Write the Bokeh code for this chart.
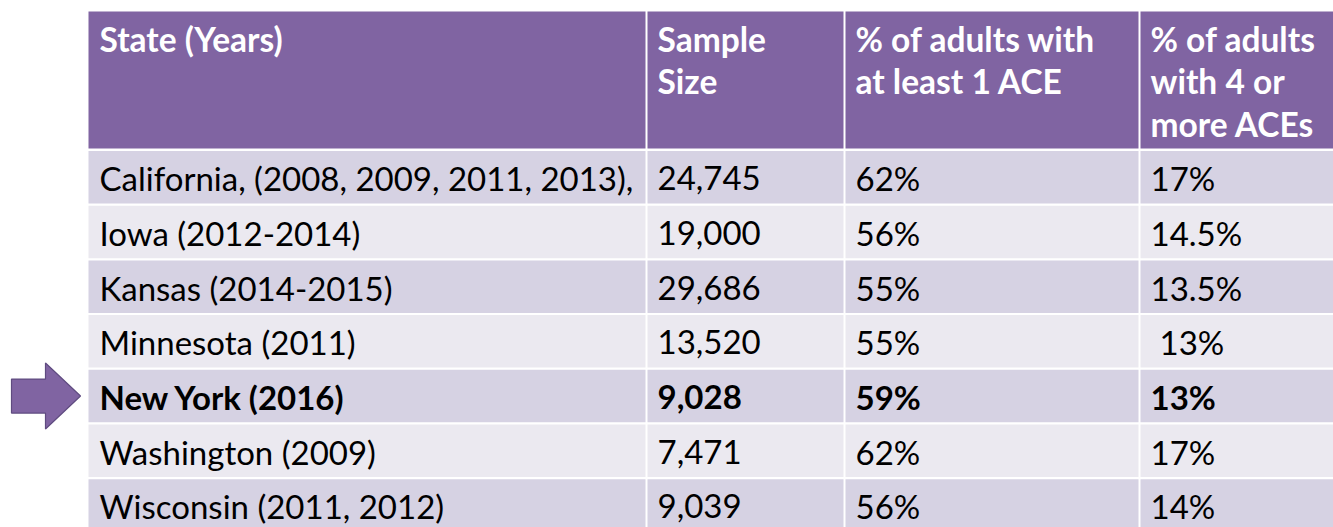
from bokeh.plotting import figure
from bokeh.models import Range1d
from bokeh.core.properties import value
from bokeh.embed import file_html
from bokeh.resources import INLINE

# ---- data ----
header_lines = [
    ["State (Years)"],
    ["Sample", "Size"],
    ["% of adults with", "at least 1 ACE"],
    ["% of adults", "with 4 or", "more ACEs"],
]
states = ["California, (2008, 2009, 2011, 2013),", "Iowa (2012-2014)", "Kansas (2014-2015)",
          "Minnesota (2011)", "New York (2016)", "Washington (2009)", "Wisconsin (2011, 2012)"]
sample_size = ["24,745", "19,000", "29,686", "13,520", "9,028", "7,471", "9,039"]
pct_any_ace = ["62%", "56%", "55%", "55%", "59%", "62%", "56%"]
pct_4plus = ["17%", "14.5%", "13.5%", " 13%", "13%", "17%", "14%"]
highlight = "New York (2016)"

# ---- layout (image pixel coordinates) ----
W, H = 1333, 527
col_edges = [88, 646, 844, 1139, 1345]
text_pad = 11
head_top, head_bot = 11, 148
row_top0, row_h, gap = 150.5, 54.7, 2.2
FONT = "Lato"
FS = "33px"
HFS = "33.5px"

HEAD_COL = "#8064A2"
BAND_DARK = "#D6D2E3"
BAND_LIGHT = "#EBE9F0"

p = figure(width=W, height=H, output_backend="svg", toolbar_location=None,
           x_range=Range1d(0, W), y_range=Range1d(H, 0),
           min_border=0, outline_line_color=None)
p.axis.visible = False
p.grid.visible = False
p.background_fill_color = "white"
p.border_fill_color = "white"

# header cells
for c in range(4):
    l, r = col_edges[c], col_edges[c + 1]
    p.quad(left=l + (1 if c else 0), right=r - 1, top=head_top, bottom=head_bot,
           fill_color=HEAD_COL, line_color=None)
    for k, t in enumerate(header_lines[c]):
        p.text(x=[l + text_pad], y=[38 + k * 42.5], text=[t], text_color="white",
               text_font=value(FONT), text_font_size=HFS, text_font_style="bold",
               text_baseline="middle", text_align="left")

# body rows
cols = [states, sample_size, pct_any_ace, pct_4plus]
for i, st in enumerate(states):
    top = row_top0 + i * row_h
    bot = top + row_h - gap
    fill = BAND_DARK if i % 2 == 0 else BAND_LIGHT
    bold = st == highlight
    for c in range(4):
        l, r = col_edges[c], col_edges[c + 1]
        p.quad(left=l + (1 if c else 0), right=r - 1, top=top, bottom=bot,
               fill_color=fill, line_color=None)
        s = cols[c][i]
        indent = 9 if s.startswith(" ") else 0
        p.text(x=[l + text_pad + indent], y=[(top + bot) / 2 + 1], text=[s.strip()],
               text_color="black", text_font=value(FONT), text_font_size=FS,
               text_font_style="bold" if bold else "normal",
               text_baseline="middle", text_align="left")

# arrow pointing at highlighted row
ri = states.index(highlight)
cy = row_top0 + ri * row_h + (row_h - gap) / 2
ax = [11, 45, 45, 80, 45, 45, 11]
ay = [cy - 17, cy - 17, cy - 33, cy, cy + 33, cy + 17, cy + 17]
p.patch(x=ax, y=ay, fill_color="#8064A2", line_color="#5F4B80", line_width=1.2)

open("out.html", "w").write(file_html(p, INLINE))
